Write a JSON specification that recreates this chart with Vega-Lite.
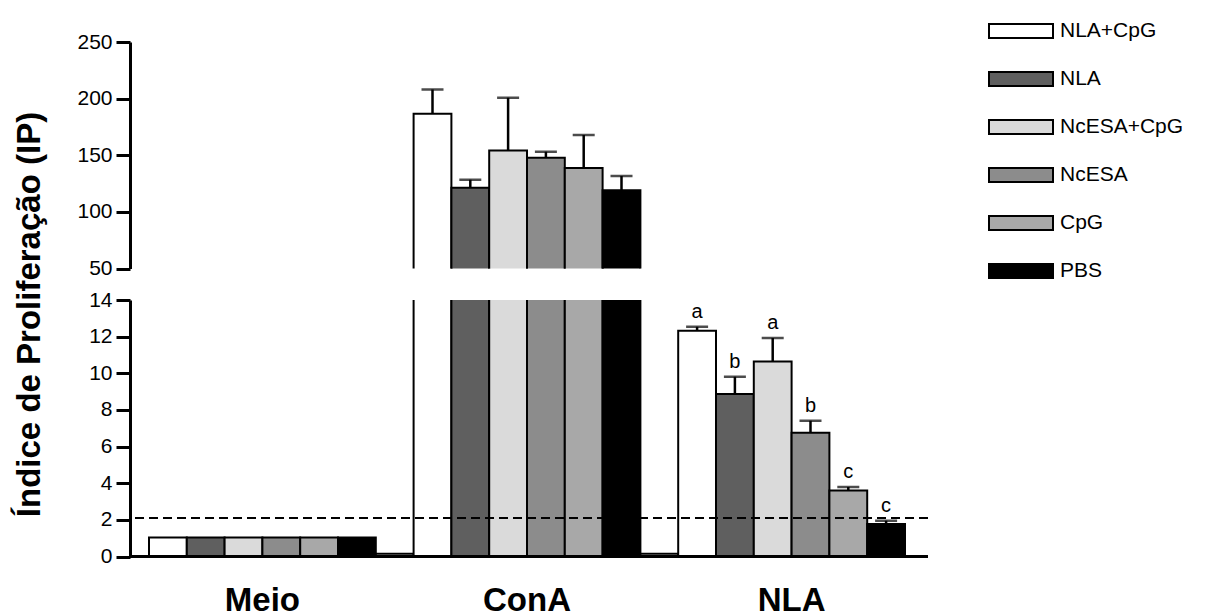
{
  "$schema": "https://vega.github.io/schema/vega-lite/v6.json",
  "padding": {"left": 12, "top": 23, "right": 5, "bottom": 5},
  "bounds": "flush",
  "spacing": 31,
  "background": "white",
  "data": {"name": "bars"},
  "datasets": {
    "bars": [
      {"group": "Meio", "series": "NLA+CpG", "value": 1.04},
      {"group": "Meio", "series": "NLA", "value": 1.04},
      {"group": "Meio", "series": "NcESA+CpG", "value": 1.04},
      {"group": "Meio", "series": "NcESA", "value": 1.04},
      {"group": "Meio", "series": "CpG", "value": 1.04},
      {"group": "Meio", "series": "PBS", "value": 1.04},
      {"group": "Meio", "series": "sp", "value": 0.15},
      {"group": "ConA", "series": "NLA+CpG", "value": 186.6, "err": 208},
      {"group": "ConA", "series": "NLA", "value": 121.4, "err": 128.4},
      {"group": "ConA", "series": "NcESA+CpG", "value": 154.2, "err": 200.7},
      {"group": "ConA", "series": "NcESA", "value": 147.8, "err": 153},
      {"group": "ConA", "series": "CpG", "value": 138.7, "err": 167.8},
      {"group": "ConA", "series": "PBS", "value": 119, "err": 131.7},
      {"group": "ConA", "series": "sp", "value": 0.15},
      {"group": "NLA", "series": "NLA+CpG", "value": 12.32, "err": 12.54, "label": "a"},
      {"group": "NLA", "series": "NLA", "value": 8.87, "err": 9.81, "label": "b"},
      {"group": "NLA", "series": "NcESA+CpG", "value": 10.65, "err": 11.93, "label": "a"},
      {"group": "NLA", "series": "NcESA", "value": 6.76, "err": 7.41, "label": "b"},
      {"group": "NLA", "series": "CpG", "value": 3.6, "err": 3.8, "label": "c"},
      {"group": "NLA", "series": "PBS", "value": 1.78, "err": 1.96, "label": "c"}
    ]
  },
  "config": {
    "view": {"stroke": null},
    "font": "Liberation Sans",
    "axis": {
      "domainColor": "black", "domainWidth": 3, "tickColor": "black", "tickWidth": 3, "tickSize": 14,
      "labelColor": "black", "labelFont": "Liberation Sans", "labelFontSize": 21, "labelPadding": 4,
      "labelOverlap": false, "labelBound": false, "labelFlush": false,
      "grid": false, "titleColor": "black"
    }
  },
  "resolve": {"scale": {"x": "shared", "xOffset": "shared", "fill": "shared"}},
  "vconcat": [
    {
      "width": 798,
      "height": 226.5,
      "transform": [{"filter": "datum.group === 'ConA'"}],
      "encoding": {
        "x": {"field": "group", "type": "nominal", "scale": {"domain": ["Meio", "ConA", "NLA"], "range": [19, 812.8], "paddingInner": 0, "paddingOuter": 0}, "axis": null},
        "xOffset": {"field": "series", "type": "nominal", "scale": {"domain": ["NLA+CpG", "NLA", "NcESA+CpG", "NcESA", "CpG", "PBS", "sp"], "paddingInner": 0, "paddingOuter": 0}}
      },
      "layer": [
        {
          "mark": {"type": "bar", "clip": true, "stroke": "black", "strokeWidth": 2},
          "encoding": {
            "y": {"field": "value", "type": "quantitative", "scale": {"domain": [50, 250], "nice": false, "zero": false},
                  "axis": {"values": [50, 100, 150, 200, 250], "title": null}},
            "fill": {"field": "series", "type": "nominal",
              "scale": {"domain": ["NLA+CpG", "NLA", "NcESA+CpG", "NcESA", "CpG", "PBS", "sp"], "range": ["#ffffff", "#5f5f5f", "#dadada", "#8c8c8c", "#a8a8a8", "#000000", "#ffffff"]},
              "legend": {"orient": "none", "legendX": 858, "legendY": -19, "title": null,
                "values": ["NLA+CpG", "NLA", "NcESA+CpG", "NcESA", "CpG", "PBS"],
                "symbolType": "M-1,-0.21875H1V0.21875H-1Z", "symbolSize": 4096,
                "symbolStrokeColor": "black", "symbolStrokeWidth": 2, "clipHeight": 16, "rowPadding": 27,
                "labelFontSize": 21, "labelFont": "Liberation Sans", "labelColor": "black", "labelOffset": 6}}
          }
        },
        {
          "mark": {"type": "rule", "clip": true, "strokeWidth": 2.5, "color": "black"},
          "encoding": {"y": {"field": "value", "type": "quantitative", "axis": {"values": [50, 100, 150, 200, 250], "title": null}}, "y2": {"field": "err"}}
        },
        {
          "mark": {"type": "tick", "clip": true, "thickness": 2.5, "size": 22, "color": "black"},
          "encoding": {"y": {"field": "err", "type": "quantitative", "axis": {"values": [50, 100, 150, 200, 250], "title": null}}}
        }
      ]
    },
    {
      "width": 798,
      "height": 256.6,
      "encoding": {
        "x": {"field": "group", "type": "nominal", "scale": {"domain": ["Meio", "ConA", "NLA"], "range": [19, 812.8], "paddingInner": 0, "paddingOuter": 0},
              "axis": {"title": null, "ticks": false, "domain": false, "labelFontSize": 33, "labelFontWeight": "bold", "labelPadding": 28, "labelOffset": -18.9, "labelAngle": 0}},
        "xOffset": {"field": "series", "type": "nominal", "scale": {"domain": ["NLA+CpG", "NLA", "NcESA+CpG", "NcESA", "CpG", "PBS", "sp"], "paddingInner": 0, "paddingOuter": 0}}
      },
      "layer": [
        {
          "mark": {"type": "bar", "clip": true, "stroke": "black", "strokeWidth": 2},
          "encoding": {
            "y": {"field": "value", "type": "quantitative", "scale": {"domain": [0, 14], "nice": false},
                  "axis": {"values": [0, 2, 4, 6, 8, 10, 12, 14], "title": "Índice de Proliferação (IP)",
                           "titleFontSize": 33, "titleFontWeight": "bold", "titleFont": "Liberation Sans",
                           "titleX": -101, "titleY": 14, "titleBaseline": "middle", "titleAlign": "center", "titleAngle": 270}},
            "fill": {"field": "series", "type": "nominal",
              "scale": {"domain": ["NLA+CpG", "NLA", "NcESA+CpG", "NcESA", "CpG", "PBS", "sp"], "range": ["#ffffff", "#5f5f5f", "#dadada", "#8c8c8c", "#a8a8a8", "#000000", "#ffffff"]},
              "legend": {"orient": "none", "legendX": 858, "legendY": -19, "title": null,
                "values": ["NLA+CpG", "NLA", "NcESA+CpG", "NcESA", "CpG", "PBS"],
                "symbolType": "M-1,-0.21875H1V0.21875H-1Z", "symbolSize": 4096,
                "symbolStrokeColor": "black", "symbolStrokeWidth": 2, "clipHeight": 16, "rowPadding": 27,
                "labelFontSize": 21, "labelFont": "Liberation Sans", "labelColor": "black", "labelOffset": 6}}
          }
        },
        {
          "transform": [{"filter": "isValid(datum.err)"}],
          "mark": {"type": "rule", "clip": true, "strokeWidth": 2.5, "color": "black"},
          "encoding": {"y": {"field": "value", "type": "quantitative",
                  "axis": {"values": [0, 2, 4, 6, 8, 10, 12, 14], "title": "Índice de Proliferação (IP)",
                           "titleFontSize": 33, "titleFontWeight": "bold", "titleFont": "Liberation Sans",
                           "titleX": -101, "titleY": 14, "titleBaseline": "middle", "titleAlign": "center", "titleAngle": 270}},
                       "y2": {"field": "err"}}
        },
        {
          "transform": [{"filter": "isValid(datum.err)"}],
          "mark": {"type": "tick", "clip": true, "thickness": 2.5, "size": 22, "color": "black"},
          "encoding": {"y": {"field": "err", "type": "quantitative",
                  "axis": {"values": [0, 2, 4, 6, 8, 10, 12, 14], "title": "Índice de Proliferação (IP)",
                           "titleFontSize": 33, "titleFontWeight": "bold", "titleFont": "Liberation Sans",
                           "titleX": -101, "titleY": 14, "titleBaseline": "middle", "titleAlign": "center", "titleAngle": 270}}}
        },
        {
          "transform": [{"filter": "isValid(datum.label)"}],
          "mark": {"type": "text", "baseline": "bottom", "dy": -5, "fontSize": 20, "font": "Liberation Sans", "color": "black"},
          "encoding": {"y": {"field": "err", "type": "quantitative",
                  "axis": {"values": [0, 2, 4, 6, 8, 10, 12, 14], "title": "Índice de Proliferação (IP)",
                           "titleFontSize": 33, "titleFontWeight": "bold", "titleFont": "Liberation Sans",
                           "titleX": -101, "titleY": 14, "titleBaseline": "middle", "titleAlign": "center", "titleAngle": 270}},
                       "text": {"field": "label"}}
        },
        {
          "data": {"values": [{}]},
          "mark": {"type": "rule", "strokeDash": [9, 5], "strokeWidth": 2, "color": "black"},
          "encoding": {"y": {"datum": 2.1, "type": "quantitative",
                  "axis": {"values": [0, 2, 4, 6, 8, 10, 12, 14], "title": "Índice de Proliferação (IP)",
                           "titleFontSize": 33, "titleFontWeight": "bold", "titleFont": "Liberation Sans",
                           "titleX": -101, "titleY": 14, "titleBaseline": "middle", "titleAlign": "center", "titleAngle": 270}},
                       "x": null, "xOffset": null}
        },
        {
          "data": {"values": [{}]},
          "mark": {"type": "rule", "strokeWidth": 3, "color": "black"},
          "encoding": {"y": {"datum": 0, "type": "quantitative",
                  "axis": {"values": [0, 2, 4, 6, 8, 10, 12, 14], "title": "Índice de Proliferação (IP)",
                           "titleFontSize": 33, "titleFontWeight": "bold", "titleFont": "Liberation Sans",
                           "titleX": -101, "titleY": 14, "titleBaseline": "middle", "titleAlign": "center", "titleAngle": 270}},
                       "x": null, "xOffset": null}
        }
      ]
    }
  ]
}
